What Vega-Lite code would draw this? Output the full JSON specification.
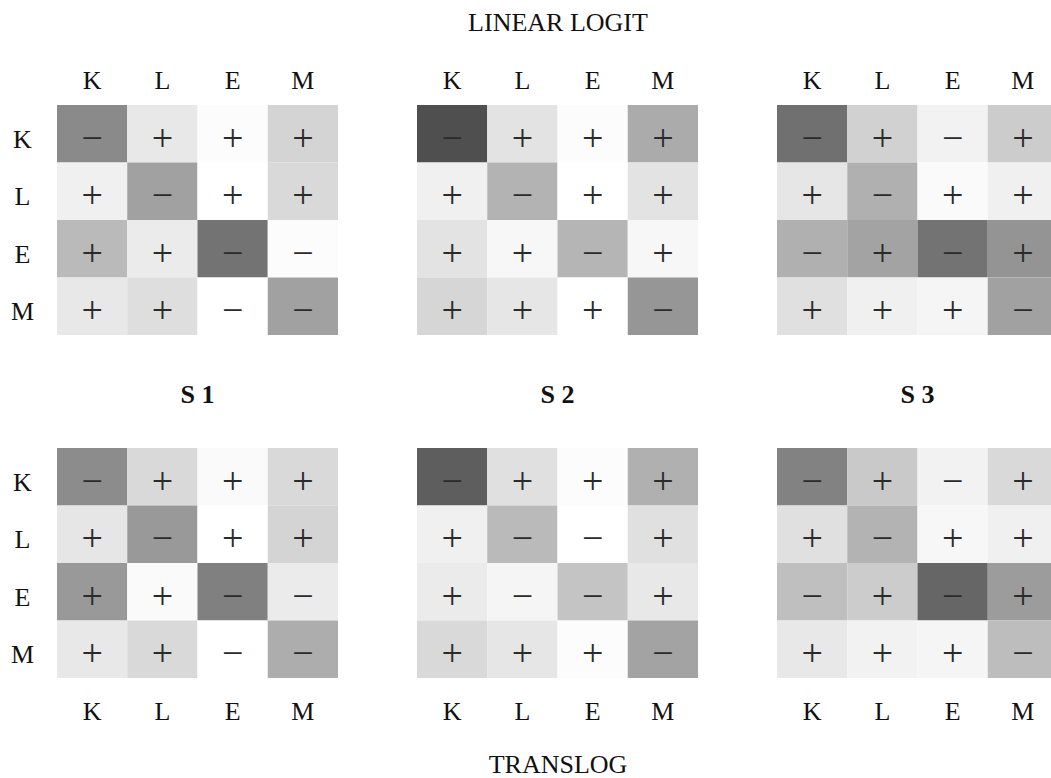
{
  "$schema": "https://vega.github.io/schema/vega-lite/v6.json",
  "padding": {"left": 0, "top": 9, "right": -6, "bottom": 0},
  "background": "#ffffff",
  "config": {
    "font": "Liberation Serif",
    "view": {"stroke": null},
    "axis": {
      "ticks": false,
      "domain": false,
      "grid": false,
      "labelFont": "Liberation Serif",
      "labelFontSize": 26,
      "labelColor": "#111111",
      "labelAngle": 0,
      "titleFont": "Liberation Serif",
      "titleFontSize": 26,
      "titleFontWeight": "normal",
      "titleColor": "#111111"
    },
    "title": {"font": "Liberation Serif", "fontSize": 26, "fontWeight": "bold", "color": "#111111", "offset": 40}
  },
  "datasets": {
    "cells": [
      {"model": "LINEAR LOGIT", "share": "S 1", "row": "K", "col": "K", "sign": "−", "v": 0.46},
      {"model": "LINEAR LOGIT", "share": "S 1", "row": "K", "col": "L", "sign": "+", "v": 0.09},
      {"model": "LINEAR LOGIT", "share": "S 1", "row": "K", "col": "E", "sign": "+", "v": 0.01},
      {"model": "LINEAR LOGIT", "share": "S 1", "row": "K", "col": "M", "sign": "+", "v": 0.17},
      {"model": "LINEAR LOGIT", "share": "S 1", "row": "L", "col": "K", "sign": "+", "v": 0.06},
      {"model": "LINEAR LOGIT", "share": "S 1", "row": "L", "col": "L", "sign": "−", "v": 0.37},
      {"model": "LINEAR LOGIT", "share": "S 1", "row": "L", "col": "E", "sign": "+", "v": 0.0},
      {"model": "LINEAR LOGIT", "share": "S 1", "row": "L", "col": "M", "sign": "+", "v": 0.15},
      {"model": "LINEAR LOGIT", "share": "S 1", "row": "E", "col": "K", "sign": "+", "v": 0.27},
      {"model": "LINEAR LOGIT", "share": "S 1", "row": "E", "col": "L", "sign": "+", "v": 0.08},
      {"model": "LINEAR LOGIT", "share": "S 1", "row": "E", "col": "E", "sign": "−", "v": 0.55},
      {"model": "LINEAR LOGIT", "share": "S 1", "row": "E", "col": "M", "sign": "−", "v": 0.01},
      {"model": "LINEAR LOGIT", "share": "S 1", "row": "M", "col": "K", "sign": "+", "v": 0.09},
      {"model": "LINEAR LOGIT", "share": "S 1", "row": "M", "col": "L", "sign": "+", "v": 0.13},
      {"model": "LINEAR LOGIT", "share": "S 1", "row": "M", "col": "E", "sign": "−", "v": 0.0},
      {"model": "LINEAR LOGIT", "share": "S 1", "row": "M", "col": "M", "sign": "−", "v": 0.37},

      {"model": "LINEAR LOGIT", "share": "S 2", "row": "K", "col": "K", "sign": "−", "v": 0.69},
      {"model": "LINEAR LOGIT", "share": "S 2", "row": "K", "col": "L", "sign": "+", "v": 0.11},
      {"model": "LINEAR LOGIT", "share": "S 2", "row": "K", "col": "E", "sign": "+", "v": 0.01},
      {"model": "LINEAR LOGIT", "share": "S 2", "row": "K", "col": "M", "sign": "+", "v": 0.33},
      {"model": "LINEAR LOGIT", "share": "S 2", "row": "L", "col": "K", "sign": "+", "v": 0.06},
      {"model": "LINEAR LOGIT", "share": "S 2", "row": "L", "col": "L", "sign": "−", "v": 0.30},
      {"model": "LINEAR LOGIT", "share": "S 2", "row": "L", "col": "E", "sign": "+", "v": 0.0},
      {"model": "LINEAR LOGIT", "share": "S 2", "row": "L", "col": "M", "sign": "+", "v": 0.11},
      {"model": "LINEAR LOGIT", "share": "S 2", "row": "E", "col": "K", "sign": "+", "v": 0.11},
      {"model": "LINEAR LOGIT", "share": "S 2", "row": "E", "col": "L", "sign": "+", "v": 0.03},
      {"model": "LINEAR LOGIT", "share": "S 2", "row": "E", "col": "E", "sign": "−", "v": 0.29},
      {"model": "LINEAR LOGIT", "share": "S 2", "row": "E", "col": "M", "sign": "+", "v": 0.03},
      {"model": "LINEAR LOGIT", "share": "S 2", "row": "M", "col": "K", "sign": "+", "v": 0.16},
      {"model": "LINEAR LOGIT", "share": "S 2", "row": "M", "col": "L", "sign": "+", "v": 0.10},
      {"model": "LINEAR LOGIT", "share": "S 2", "row": "M", "col": "E", "sign": "+", "v": 0.0},
      {"model": "LINEAR LOGIT", "share": "S 2", "row": "M", "col": "M", "sign": "−", "v": 0.41},

      {"model": "LINEAR LOGIT", "share": "S 3", "row": "K", "col": "K", "sign": "−", "v": 0.56},
      {"model": "LINEAR LOGIT", "share": "S 3", "row": "K", "col": "L", "sign": "+", "v": 0.18},
      {"model": "LINEAR LOGIT", "share": "S 3", "row": "K", "col": "E", "sign": "−", "v": 0.05},
      {"model": "LINEAR LOGIT", "share": "S 3", "row": "K", "col": "M", "sign": "+", "v": 0.20},
      {"model": "LINEAR LOGIT", "share": "S 3", "row": "L", "col": "K", "sign": "+", "v": 0.10},
      {"model": "LINEAR LOGIT", "share": "S 3", "row": "L", "col": "L", "sign": "−", "v": 0.31},
      {"model": "LINEAR LOGIT", "share": "S 3", "row": "L", "col": "E", "sign": "+", "v": 0.02},
      {"model": "LINEAR LOGIT", "share": "S 3", "row": "L", "col": "M", "sign": "+", "v": 0.06},
      {"model": "LINEAR LOGIT", "share": "S 3", "row": "E", "col": "K", "sign": "−", "v": 0.31},
      {"model": "LINEAR LOGIT", "share": "S 3", "row": "E", "col": "L", "sign": "+", "v": 0.36},
      {"model": "LINEAR LOGIT", "share": "S 3", "row": "E", "col": "E", "sign": "−", "v": 0.55},
      {"model": "LINEAR LOGIT", "share": "S 3", "row": "E", "col": "M", "sign": "+", "v": 0.42},
      {"model": "LINEAR LOGIT", "share": "S 3", "row": "M", "col": "K", "sign": "+", "v": 0.12},
      {"model": "LINEAR LOGIT", "share": "S 3", "row": "M", "col": "L", "sign": "+", "v": 0.06},
      {"model": "LINEAR LOGIT", "share": "S 3", "row": "M", "col": "E", "sign": "+", "v": 0.04},
      {"model": "LINEAR LOGIT", "share": "S 3", "row": "M", "col": "M", "sign": "−", "v": 0.37},

      {"model": "TRANSLOG", "share": "S 1", "row": "K", "col": "K", "sign": "−", "v": 0.45},
      {"model": "TRANSLOG", "share": "S 1", "row": "K", "col": "L", "sign": "+", "v": 0.15},
      {"model": "TRANSLOG", "share": "S 1", "row": "K", "col": "E", "sign": "+", "v": 0.02},
      {"model": "TRANSLOG", "share": "S 1", "row": "K", "col": "M", "sign": "+", "v": 0.15},
      {"model": "TRANSLOG", "share": "S 1", "row": "L", "col": "K", "sign": "+", "v": 0.10},
      {"model": "TRANSLOG", "share": "S 1", "row": "L", "col": "L", "sign": "−", "v": 0.40},
      {"model": "TRANSLOG", "share": "S 1", "row": "L", "col": "E", "sign": "+", "v": 0.0},
      {"model": "TRANSLOG", "share": "S 1", "row": "L", "col": "M", "sign": "+", "v": 0.17},
      {"model": "TRANSLOG", "share": "S 1", "row": "E", "col": "K", "sign": "+", "v": 0.40},
      {"model": "TRANSLOG", "share": "S 1", "row": "E", "col": "L", "sign": "+", "v": 0.02},
      {"model": "TRANSLOG", "share": "S 1", "row": "E", "col": "E", "sign": "−", "v": 0.50},
      {"model": "TRANSLOG", "share": "S 1", "row": "E", "col": "M", "sign": "−", "v": 0.08},
      {"model": "TRANSLOG", "share": "S 1", "row": "M", "col": "K", "sign": "+", "v": 0.09},
      {"model": "TRANSLOG", "share": "S 1", "row": "M", "col": "L", "sign": "+", "v": 0.15},
      {"model": "TRANSLOG", "share": "S 1", "row": "M", "col": "E", "sign": "−", "v": 0.0},
      {"model": "TRANSLOG", "share": "S 1", "row": "M", "col": "M", "sign": "−", "v": 0.32},

      {"model": "TRANSLOG", "share": "S 2", "row": "K", "col": "K", "sign": "−", "v": 0.63},
      {"model": "TRANSLOG", "share": "S 2", "row": "K", "col": "L", "sign": "+", "v": 0.12},
      {"model": "TRANSLOG", "share": "S 2", "row": "K", "col": "E", "sign": "+", "v": 0.01},
      {"model": "TRANSLOG", "share": "S 2", "row": "K", "col": "M", "sign": "+", "v": 0.31},
      {"model": "TRANSLOG", "share": "S 2", "row": "L", "col": "K", "sign": "+", "v": 0.06},
      {"model": "TRANSLOG", "share": "S 2", "row": "L", "col": "L", "sign": "−", "v": 0.27},
      {"model": "TRANSLOG", "share": "S 2", "row": "L", "col": "E", "sign": "−", "v": 0.0},
      {"model": "TRANSLOG", "share": "S 2", "row": "L", "col": "M", "sign": "+", "v": 0.12},
      {"model": "TRANSLOG", "share": "S 2", "row": "E", "col": "K", "sign": "+", "v": 0.08},
      {"model": "TRANSLOG", "share": "S 2", "row": "E", "col": "L", "sign": "−", "v": 0.04},
      {"model": "TRANSLOG", "share": "S 2", "row": "E", "col": "E", "sign": "−", "v": 0.23},
      {"model": "TRANSLOG", "share": "S 2", "row": "E", "col": "M", "sign": "+", "v": 0.09},
      {"model": "TRANSLOG", "share": "S 2", "row": "M", "col": "K", "sign": "+", "v": 0.15},
      {"model": "TRANSLOG", "share": "S 2", "row": "M", "col": "L", "sign": "+", "v": 0.10},
      {"model": "TRANSLOG", "share": "S 2", "row": "M", "col": "E", "sign": "+", "v": 0.01},
      {"model": "TRANSLOG", "share": "S 2", "row": "M", "col": "M", "sign": "−", "v": 0.36},

      {"model": "TRANSLOG", "share": "S 3", "row": "K", "col": "K", "sign": "−", "v": 0.49},
      {"model": "TRANSLOG", "share": "S 3", "row": "K", "col": "L", "sign": "+", "v": 0.21},
      {"model": "TRANSLOG", "share": "S 3", "row": "K", "col": "E", "sign": "−", "v": 0.05},
      {"model": "TRANSLOG", "share": "S 3", "row": "K", "col": "M", "sign": "+", "v": 0.15},
      {"model": "TRANSLOG", "share": "S 3", "row": "L", "col": "K", "sign": "+", "v": 0.12},
      {"model": "TRANSLOG", "share": "S 3", "row": "L", "col": "L", "sign": "−", "v": 0.30},
      {"model": "TRANSLOG", "share": "S 3", "row": "L", "col": "E", "sign": "+", "v": 0.03},
      {"model": "TRANSLOG", "share": "S 3", "row": "L", "col": "M", "sign": "+", "v": 0.06},
      {"model": "TRANSLOG", "share": "S 3", "row": "E", "col": "K", "sign": "−", "v": 0.25},
      {"model": "TRANSLOG", "share": "S 3", "row": "E", "col": "L", "sign": "+", "v": 0.20},
      {"model": "TRANSLOG", "share": "S 3", "row": "E", "col": "E", "sign": "−", "v": 0.60},
      {"model": "TRANSLOG", "share": "S 3", "row": "E", "col": "M", "sign": "+", "v": 0.39},
      {"model": "TRANSLOG", "share": "S 3", "row": "M", "col": "K", "sign": "+", "v": 0.09},
      {"model": "TRANSLOG", "share": "S 3", "row": "M", "col": "L", "sign": "+", "v": 0.05},
      {"model": "TRANSLOG", "share": "S 3", "row": "M", "col": "E", "sign": "+", "v": 0.04},
      {"model": "TRANSLOG", "share": "S 3", "row": "M", "col": "M", "sign": "−", "v": 0.26}
    ]
  },
  "spacing": 47,
  "vconcat": [
    {
      "spacing": 79,
      "hconcat": [
        {
          "width": 281, "height": 230,
          "data": {"name": "cells"},
          "transform": [{"filter": "datum.model === 'LINEAR LOGIT' && datum.share === 'S 1'"}],
          "encoding": {
            "x": {"field": "col", "type": "nominal", "sort": ["K", "L", "E", "M"], "scale": {"paddingInner": 0, "paddingOuter": 0},
                  "axis": {"orient": "top", "title": null, "labelBaseline": "middle", "labelPadding": 25}},
            "y": {"field": "row", "type": "nominal", "sort": ["K", "L", "E", "M"], "scale": {"paddingInner": 0, "paddingOuter": 0},
                  "axis": {"orient": "left", "title": null, "labelAlign": "center", "labelBaseline": "middle", "labelPadding": 35, "labelOffset": 6, "minExtent": 57, "maxExtent": 57}}
          },
          "layer": [
            {"mark": {"type": "rect"},
             "encoding": {"color": {"field": "v", "type": "quantitative", "scale": {"domain": [0, 1], "range": ["#ffffff", "#000000"], "interpolate": "rgb"}, "legend": null}}},
            {"mark": {"type": "text", "font": "Liberation Serif", "fontSize": 38, "color": "#2b2b2b", "baseline": "middle", "dy": 6},
             "encoding": {"text": {"field": "sign"}}}
          ]
        },
        {
          "width": 281, "height": 230,
          "data": {"name": "cells"},
          "transform": [{"filter": "datum.model === 'LINEAR LOGIT' && datum.share === 'S 2'"}],
          "encoding": {
            "x": {"field": "col", "type": "nominal", "sort": ["K", "L", "E", "M"], "scale": {"paddingInner": 0, "paddingOuter": 0},
                  "axis": {"orient": "top", "title": "LINEAR LOGIT", "labelBaseline": "middle", "labelPadding": 25, "titlePadding": 32}},
            "y": {"field": "row", "type": "nominal", "sort": ["K", "L", "E", "M"], "scale": {"paddingInner": 0, "paddingOuter": 0}, "axis": null}
          },
          "layer": [
            {"mark": {"type": "rect"},
             "encoding": {"color": {"field": "v", "type": "quantitative", "scale": {"domain": [0, 1], "range": ["#ffffff", "#000000"], "interpolate": "rgb"}, "legend": null}}},
            {"mark": {"type": "text", "font": "Liberation Serif", "fontSize": 38, "color": "#2b2b2b", "baseline": "middle", "dy": 6},
             "encoding": {"text": {"field": "sign"}}}
          ]
        },
        {
          "width": 281, "height": 230,
          "data": {"name": "cells"},
          "transform": [{"filter": "datum.model === 'LINEAR LOGIT' && datum.share === 'S 3'"}],
          "encoding": {
            "x": {"field": "col", "type": "nominal", "sort": ["K", "L", "E", "M"], "scale": {"paddingInner": 0, "paddingOuter": 0},
                  "axis": {"orient": "top", "title": null, "labelBaseline": "middle", "labelPadding": 25}},
            "y": {"field": "row", "type": "nominal", "sort": ["K", "L", "E", "M"], "scale": {"paddingInner": 0, "paddingOuter": 0}, "axis": null}
          },
          "layer": [
            {"mark": {"type": "rect"},
             "encoding": {"color": {"field": "v", "type": "quantitative", "scale": {"domain": [0, 1], "range": ["#ffffff", "#000000"], "interpolate": "rgb"}, "legend": null}}},
            {"mark": {"type": "text", "font": "Liberation Serif", "fontSize": 38, "color": "#2b2b2b", "baseline": "middle", "dy": 6},
             "encoding": {"text": {"field": "sign"}}}
          ]
        }
      ]
    },
    {
      "spacing": 79,
      "hconcat": [
        {
          "width": 281, "height": 230,
          "title": "S  1",
          "data": {"name": "cells"},
          "transform": [{"filter": "datum.model === 'TRANSLOG' && datum.share === 'S 1'"}],
          "encoding": {
            "x": {"field": "col", "type": "nominal", "sort": ["K", "L", "E", "M"], "scale": {"paddingInner": 0, "paddingOuter": 0},
                  "axis": {"orient": "bottom", "title": null, "labelBaseline": "middle", "labelPadding": 33}},
            "y": {"field": "row", "type": "nominal", "sort": ["K", "L", "E", "M"], "scale": {"paddingInner": 0, "paddingOuter": 0},
                  "axis": {"orient": "left", "title": null, "labelAlign": "center", "labelBaseline": "middle", "labelPadding": 35, "labelOffset": 6, "minExtent": 57, "maxExtent": 57}}
          },
          "layer": [
            {"mark": {"type": "rect"},
             "encoding": {"color": {"field": "v", "type": "quantitative", "scale": {"domain": [0, 1], "range": ["#ffffff", "#000000"], "interpolate": "rgb"}, "legend": null}}},
            {"mark": {"type": "text", "font": "Liberation Serif", "fontSize": 38, "color": "#2b2b2b", "baseline": "middle", "dy": 6},
             "encoding": {"text": {"field": "sign"}}}
          ]
        },
        {
          "width": 281, "height": 230,
          "title": "S  2",
          "data": {"name": "cells"},
          "transform": [{"filter": "datum.model === 'TRANSLOG' && datum.share === 'S 2'"}],
          "encoding": {
            "x": {"field": "col", "type": "nominal", "sort": ["K", "L", "E", "M"], "scale": {"paddingInner": 0, "paddingOuter": 0},
                  "axis": {"orient": "bottom", "title": "TRANSLOG", "labelBaseline": "middle", "labelPadding": 33, "titlePadding": 27}},
            "y": {"field": "row", "type": "nominal", "sort": ["K", "L", "E", "M"], "scale": {"paddingInner": 0, "paddingOuter": 0}, "axis": null}
          },
          "layer": [
            {"mark": {"type": "rect"},
             "encoding": {"color": {"field": "v", "type": "quantitative", "scale": {"domain": [0, 1], "range": ["#ffffff", "#000000"], "interpolate": "rgb"}, "legend": null}}},
            {"mark": {"type": "text", "font": "Liberation Serif", "fontSize": 38, "color": "#2b2b2b", "baseline": "middle", "dy": 6},
             "encoding": {"text": {"field": "sign"}}}
          ]
        },
        {
          "width": 281, "height": 230,
          "title": "S  3",
          "data": {"name": "cells"},
          "transform": [{"filter": "datum.model === 'TRANSLOG' && datum.share === 'S 3'"}],
          "encoding": {
            "x": {"field": "col", "type": "nominal", "sort": ["K", "L", "E", "M"], "scale": {"paddingInner": 0, "paddingOuter": 0},
                  "axis": {"orient": "bottom", "title": null, "labelBaseline": "middle", "labelPadding": 33}},
            "y": {"field": "row", "type": "nominal", "sort": ["K", "L", "E", "M"], "scale": {"paddingInner": 0, "paddingOuter": 0}, "axis": null}
          },
          "layer": [
            {"mark": {"type": "rect"},
             "encoding": {"color": {"field": "v", "type": "quantitative", "scale": {"domain": [0, 1], "range": ["#ffffff", "#000000"], "interpolate": "rgb"}, "legend": null}}},
            {"mark": {"type": "text", "font": "Liberation Serif", "fontSize": 38, "color": "#2b2b2b", "baseline": "middle", "dy": 6},
             "encoding": {"text": {"field": "sign"}}}
          ]
        }
      ]
    }
  ]
}
